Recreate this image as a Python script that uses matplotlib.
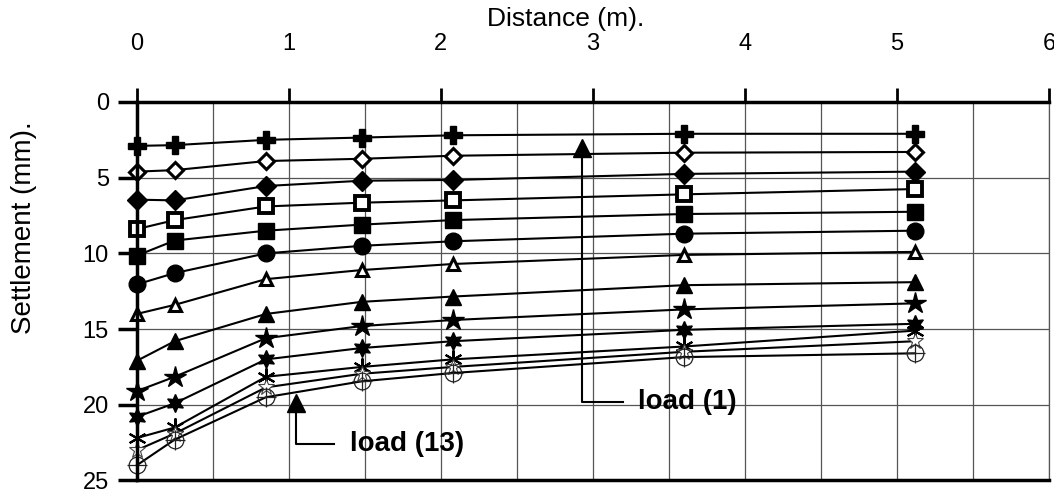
import matplotlib.pyplot as plt
from matplotlib.ticker import MultipleLocator

plt.rcParams["font.family"] = ["Liberation Sans", "DejaVu Sans"]

# distance of the measuring points (m)
distance = [0.0, 0.25, 0.85, 1.48, 2.08, 3.6, 5.12]

# settlement (mm) for each load stage, load (1) on top to load (13) at the bottom
load_01 = [2.9, 2.85, 2.5, 2.35, 2.2, 2.1, 2.1]
load_02 = [4.6, 4.5, 3.9, 3.75, 3.55, 3.35, 3.3]
load_03 = [6.45, 6.5, 5.55, 5.2, 5.15, 4.75, 4.6]
load_04 = [8.4, 7.8, 6.9, 6.65, 6.5, 6.1, 5.75]
load_05 = [10.15, 9.15, 8.5, 8.1, 7.8, 7.4, 7.25]
load_06 = [12.05, 11.3, 10.0, 9.5, 9.2, 8.7, 8.5]
load_07 = [14.0, 13.4, 11.7, 11.1, 10.7, 10.1, 9.9]
load_08 = [17.1, 15.8, 14.0, 13.2, 12.85, 12.1, 11.9]
load_09 = [19.1, 18.15, 15.6, 14.8, 14.4, 13.7, 13.3]
load_10 = [20.8, 19.9, 17.0, 16.25, 15.8, 15.05, 14.65]
load_11 = [22.2, 21.5, 18.15, 17.5, 17.0, 16.15, 15.1]
load_12 = [23.0, 21.9, 18.85, 17.95, 17.5, 16.5, 15.8]
load_13 = [24.0, 22.3, 19.5, 18.45, 17.9, 16.85, 16.6]

# call-out labels: (marker x, marker y, corner y, line end x, text)
callout_1 = (2.93, 3.05, 19.8, 3.2, "load (1)")
callout_13 = (1.05, 19.9, 22.6, 1.3, "load (13)")

series = [
    (load_01, dict(marker="P", ms=13, mfc="black", mec="black")),
    (load_02, dict(marker="D", ms=8, mfc="white", mec="black", mew=2.2)),
    (load_03, dict(marker="D", ms=10, mfc="black", mec="black")),
    (load_04, dict(marker="s", ms=9.5, mfc="white", mec="black", mew=2.8)),
    (load_05, dict(marker="s", ms=11, mfc="black", mec="black")),
    (load_06, dict(marker="o", ms=12, mfc="black", mec="black")),
    (load_07, dict(marker="^", ms=9, mfc="white", mec="black", mew=2.2)),
    (load_08, dict(marker="^", ms=11, mfc="black", mec="black")),
    (load_09, dict(marker="*", ms=16, mfc="black", mec="black")),
    (load_10, dict(marker=(6, 1, 0), ms=13, mfc="black", mec="black")),
    (load_11, dict(marker=(6, 2, 0), ms=13, mec="black", mew=1.5)),
    (load_12, dict(marker="*", ms=12, mfc="white", mec="#444444", mew=0.8)),
    (load_13, dict(marker="o", ms=12, mfc="none", mec="#222222", mew=0.9)),
]

fig = plt.figure(figsize=(10.54, 4.92), dpi=100)
ax = fig.add_axes([0.1297, 0.0234, 0.8655, 0.7693])

for values, style in series:
    ax.plot(distance, values, color="black", lw=1.5, clip_on=False, **style)

# crosshair inside the last load's circles
ax.plot(distance, load_13, ls="none", marker="+", ms=15, mec="#222222",
        mew=0.9, clip_on=False)

for mx, my, cy, ex, label in (callout_1, callout_13):
    ax.plot([mx, mx, ex], [my, cy, cy], color="black", lw=1.5)
    ax.plot([mx], [my], ls="none", marker="^", ms=13, color="black")
    ax.text(ex + 0.1, cy, label, fontsize=20, fontweight="bold", va="center", ha="left")

ax.set_xlim(0, 6)
ax.set_ylim(25, 0)
ax.xaxis.set_major_locator(MultipleLocator(1))
ax.xaxis.set_minor_locator(MultipleLocator(0.5))
ax.yaxis.set_major_locator(MultipleLocator(5))
ax.xaxis.tick_top()
ax.xaxis.set_label_position("top")
ax.set_xlabel("Distance (m).", fontsize=19)
ax.xaxis.set_label_coords(0.47, 1.2)
ax.set_ylabel("Settlement (mm).", fontsize=20)
ax.yaxis.set_label_coords(-0.109, 0.667)

ax.grid(True, which="both", axis="x", color="#555555", lw=0.9)
ax.grid(True, which="major", axis="y", color="#555555", lw=0.9)
ax.set_axisbelow(True)

ax.tick_params(axis="x", which="major", length=10, width=2, labelsize=17, pad=24)
ax.tick_params(axis="x", which="minor", length=0)
ax.tick_params(axis="y", which="major", length=14, width=2.5, labelsize=17, pad=6)

for side in ("top", "left", "bottom"):
    ax.spines[side].set_linewidth(2.5)
ax.spines["right"].set_linewidth(0.9)
ax.spines["right"].set_color("#555555")

fig.savefig("out.png", dpi=100)
